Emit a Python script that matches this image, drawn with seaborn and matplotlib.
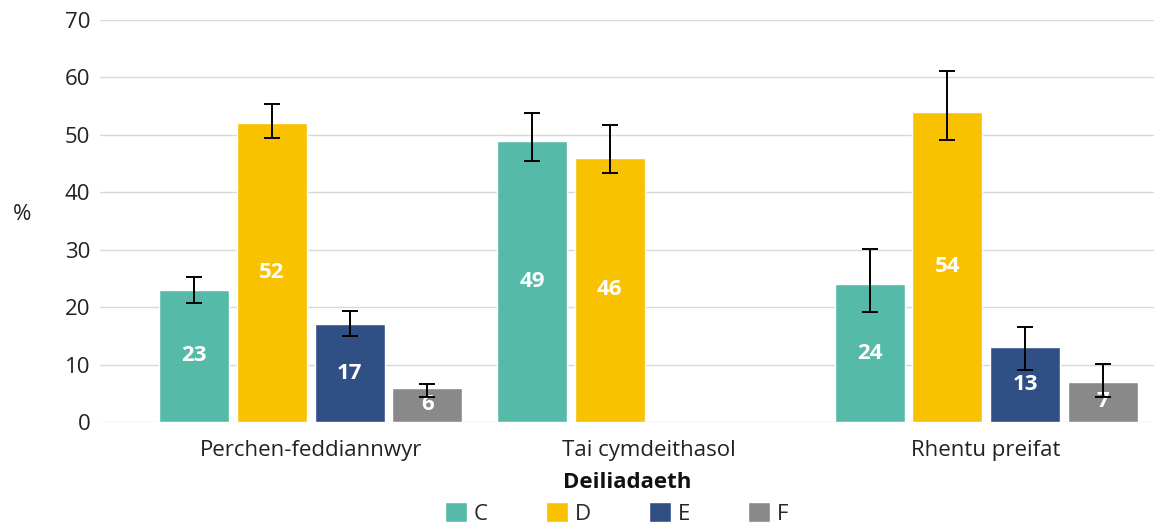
import pandas as pd
import matplotlib.pyplot as plt
import seaborn as sns

# Data
tenures = ["Perchen-feddiannwyr", "Tai cymdeithasol", "Rhentu preifat"]
bands = ["C", "D", "E", "F"]

# values per band, in tenure order (None = no bar)
band_c = [23, 49, 24]
band_d = [52, 46, 54]
band_e = [17, None, 13]
band_f = [6, None, 7]

# confidence interval lower / upper
c_low = [20.7, 45.4, 19.1]
c_high = [25.3, 53.8, 30.1]
d_low = [49.4, 43.4, 49.1]
d_high = [55.3, 51.7, 61.2]
e_low = [15.0, None, 9.1]
e_high = [19.3, None, 16.5]
f_low = [4.4, None, 4.3]
f_high = [6.7, None, 10.1]

colours = ["#55BAA8", "#F8C200", "#2F4F85", "#898989"]

rows = []
for band, vals, lo, hi in zip(
    bands,
    [band_c, band_d, band_e, band_f],
    [c_low, d_low, e_low, f_low],
    [c_high, d_high, e_high, f_high],
):
    for t, v, l, h in zip(tenures, vals, lo, hi):
        if v is not None:
            rows.append({"tenure": t, "band": band, "value": v, "low": l, "high": h})
df = pd.DataFrame(rows)

sns.set_style("white")
plt.rcParams["font.family"] = ["Open Sans", "DejaVu Sans"]

fig = plt.figure(figsize=(11.54, 5.26), dpi=100)
ax = fig.add_axes([0.0867, 0.1977, 0.9133, 0.7643])

sns.barplot(
    data=df,
    x="tenure",
    y="value",
    hue="band",
    order=tenures,
    hue_order=bands,
    palette=colours,
    width=0.92,
    gap=0.1,
    errorbar=None,
    saturation=1,
    ax=ax,
)

# error bars + labels
for band, container in zip(bands, ax.containers):
    sub = df[df["band"] == band]
    xs = [p.get_x() + p.get_width() / 2 for p in container.patches]
    ys = sub["value"].values
    err = [ys - sub["low"].values, sub["high"].values - ys]
    ax.errorbar(xs, ys, yerr=err, fmt="none", ecolor="black",
                elinewidth=1.4, capsize=6, capthick=1.4, zorder=5)
    ax.bar_label(container, label_type="center", color="white",
                 fontsize=16, fontweight="bold")

ax.set_ylim(0, 70)
ax.set_yticks(range(0, 80, 10))
ax.set_xlim(-0.624, 2.497)
ax.yaxis.grid(True, color="#d9d9d9", linewidth=1)
ax.set_axisbelow(True)
sns.despine(ax=ax, left=True, bottom=True)
ax.tick_params(axis="y", length=0, pad=7, labelsize=16, labelcolor="#222222")
ax.tick_params(axis="x", length=0, pad=13, labelsize=16, labelcolor="#222222")

ax.set_ylabel("%", rotation=0, fontsize=16, color="#222222")
ax.yaxis.label.set_va("center")
ax.yaxis.set_label_coords(-0.074, 0.515)
ax.set_xlabel("Deiliadaeth", fontsize=16, fontweight="bold", color="#111111", labelpad=8)

handles, labels = ax.get_legend_handles_labels()
ax.legend(handles, labels, loc="center", bbox_to_anchor=(0.49, -0.228),
          ncol=4, frameon=False, fontsize=16, handlelength=1.0, handleheight=1.0,
          columnspacing=2.6, handletextpad=0.3, borderaxespad=0, borderpad=0)

fig.savefig("out.png", dpi=100)
